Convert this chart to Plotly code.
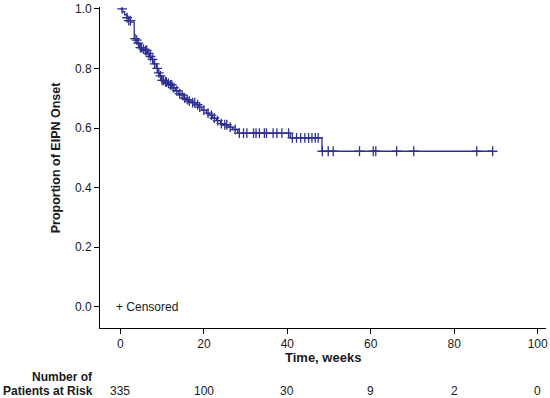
import numpy as np
import plotly.graph_objects as go

# Kaplan-Meier step data (time in weeks, proportion without EIPN onset)
event_times = [0, 0.5, 1.0, 1.5, 2.0, 2.5, 3.3, 3.8, 4.2, 4.6, 5.2, 5.8, 6.5, 7.0, 7.5, 8.0,
               8.6, 9.0, 9.4, 9.8, 10.5, 11.2, 11.8, 12.5, 13.2, 14.0, 14.6, 15.2, 15.7,
               16.2, 17.0, 18.2, 18.8, 19.5, 20.6, 21.3, 22.1, 23.0, 24.0, 24.5, 25.8,
               26.9, 28.1, 40.7, 48.3, 89.2]
survival = [1.0, 0.99, 0.98, 0.97, 0.96, 0.955, 0.90, 0.895, 0.885, 0.87, 0.865, 0.86, 0.85,
            0.84, 0.83, 0.815, 0.80, 0.785, 0.775, 0.76, 0.755, 0.75, 0.745, 0.735, 0.725,
            0.715, 0.71, 0.70, 0.695, 0.69, 0.685, 0.678, 0.67, 0.66, 0.65, 0.643, 0.633,
            0.625, 0.615, 0.611, 0.603, 0.595, 0.583, 0.567, 0.522, 0.522]

censor_times = [0.4, 1.6, 2.0, 2.4, 3.5, 3.9, 4.3, 4.8, 5.0, 5.5, 6.0, 6.3, 6.8, 7.2, 7.7,
                8.2, 8.8, 9.2, 9.6, 10.0, 10.3, 10.8, 11.0, 11.5, 12.0, 12.3, 12.8, 13.5,
                14.2, 14.8, 15.4, 16.0, 16.5, 17.3, 17.8, 18.5, 19.0, 20.0, 21.0, 21.8,
                22.5, 23.3, 24.2, 25.0, 25.5, 26.3, 27.5, 28.5, 29.5, 30.3, 31.9, 32.5,
                33.3, 34.5, 35.0, 36.6, 37.5, 38.7, 40.3, 41.2, 42.2, 43.2, 44.2, 45.1,
                45.9, 46.7, 47.4, 48.4, 49.8, 51.0, 57.3, 60.6, 61.2, 66.2, 70.3, 85.4, 89.2]

risk_times = [0, 20, 40, 60, 80, 100]
at_risk = [335, 100, 30, 9, 2, 0]

x_ticks = [0, 20, 40, 60, 80, 100]
y_ticks = [0.0, 0.2, 0.4, 0.6, 0.8, 1.0]

NAVY = "#2e3190"
TXT = "#1a1a1a"
FONT = "Liberation Sans, Arial, sans-serif"

et = np.array(event_times)
sv = np.array(survival)
ct = np.array(censor_times)
idx = np.searchsorted(et, ct, side="right") - 1
censor_surv = sv[idx]

fig = go.Figure()
fig.add_trace(go.Scatter(x=event_times, y=survival, mode="lines", line_shape="hv",
                         line=dict(color=NAVY, width=1.3), hoverinfo="skip",
                         showlegend=False))
fig.add_trace(go.Scatter(x=ct, y=censor_surv, mode="markers",
                         marker=dict(symbol="cross-thin", size=7,
                                     line=dict(color=NAVY, width=1.3)),
                         showlegend=False))

# plot area geometry in pixels
W, H = 550, 398
L, R = 100, 548
top_px, bottom_px = 5, 328


def py(px):
    return (bottom_px - px) / (bottom_px - top_px)


def pxx(px):
    return (px - L) / (R - L)


annotations = []
for t, n in zip(risk_times, at_risk):
    annotations.append(dict(x=t, y=py(391), xref="x", yref="paper", text=str(n),
                            showarrow=False, xanchor="center", yanchor="middle",
                            font=dict(size=12, color=TXT, family=FONT)))
annotations.append(dict(x=pxx(95), y=py(377), xref="paper", yref="paper", xanchor="right",
                        text="<b>Number of</b>", showarrow=False, yanchor="middle",
                        font=dict(size=12, color=TXT, family=FONT)))
annotations.append(dict(x=pxx(95), y=py(391), xref="paper", yref="paper", xanchor="right",
                        text="<b>Patients at Risk</b>", showarrow=False, yanchor="middle",
                        font=dict(size=12, color=TXT, family=FONT)))
annotations.append(dict(x=0.0, y=0.0, xref="x", yref="y", xanchor="left", xshift=-6,
                        yanchor="middle", text="+ Censored", showarrow=False,
                        font=dict(size=12, color=TXT, family=FONT)))
annotations.append(dict(x=0.5, y=py(358), xref="paper", yref="paper", xanchor="center",
                        yanchor="middle", text="<b>Time, weeks</b>", showarrow=False,
                        font=dict(size=13, color=TXT, family=FONT)))
annotations.append(dict(x=pxx(56), y=py(156), xref="paper", yref="paper",
                        xanchor="center", yanchor="middle", textangle=-90,
                        text="<b>Proportion of EIPN Onset</b>", showarrow=False,
                        font=dict(size=12.5, color=TXT, family=FONT)))

fig.update_layout(
    width=W, height=H,
    margin=dict(l=L, r=W - R, t=top_px, b=H - bottom_px),
    paper_bgcolor="white", plot_bgcolor="white",
    font=dict(family=FONT, size=12, color=TXT),
    xaxis=dict(range=[-4.9, 102], tickvals=x_ticks, showgrid=False, zeroline=False,
               showline=True, linecolor="black", linewidth=1, ticks="outside",
               ticklen=5, tickcolor="black", tickfont=dict(size=12, color=TXT)),
    yaxis=dict(range=[-0.071, 1.006], tickvals=y_ticks, tickformat=".1f",
               showgrid=False, zeroline=False, showline=True, linecolor="black",
               linewidth=1, ticks="outside", ticklen=5, tickcolor="black",
               tickfont=dict(size=12, color=TXT)),
    annotations=annotations,
    showlegend=False,
)

fig.write_html("out.html", config={"displayModeBar": False},
               post_script="document.body.style.margin='0';document.body.style.padding='0';")
